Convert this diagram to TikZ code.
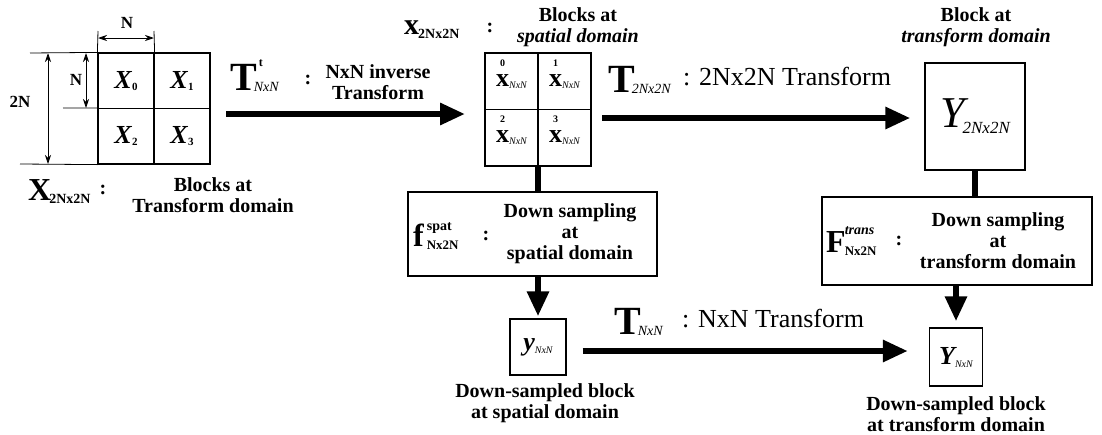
\documentclass[tikz,border=0pt]{standalone}
\usepackage{fontspec}
\setmainfont{Liberation Serif}
\usetikzlibrary{arrows.meta}
\newcommand{\fs}[1]{\fontsize{#1}{#1}\selectfont}
\newcommand{\bigT}[2]{{\fs{40}\bfseries T}\kern-3pt\rlap{\kern5pt\raisebox{24pt}{\fs{12}\bfseries #1}}\raisebox{-1pt}{\fs{14}\itshape #2}}
\newcommand{\sx}[1]{\ooalign{\bfseries x\cr\hidewidth\raisebox{20pt}{\fs{10}\bfseries #1}\hidewidth\cr}\raisebox{-2pt}{\fs{10}\itshape NxN}}
\begin{document}
\begin{tikzpicture}[x=1pt,y=-1pt,
  cell/.style={draw, line width=1.2pt, minimum width=56pt, minimum height=55.5pt, inner sep=0pt, font=\fs{26}},
  scell/.style={draw, line width=1.2pt, minimum width=53pt, minimum height=56.5pt, inner sep=0pt, font=\fs{26}},
  box/.style={draw, line width=1.4pt, inner sep=0pt},
  lbl/.style={font=\fontsize{20}{21}\selectfont\bfseries, align=center, inner sep=0pt},
  big/.style={font=\fontsize{26}{26}\selectfont, inner sep=0pt},
  dimlbl/.style={font=\fs{17}\bfseries, inner sep=0pt},
  arr/.style={line width=6pt, -{Triangle[length=25pt,width=21pt]}},
  bar/.style={line width=6pt},
  ext/.style={line width=0.8pt},
  dimarr/.style={line width=0.8pt, {Stealth[length=9pt,width=6pt]}-{Stealth[length=9pt,width=6pt]}}
]
\useasboundingbox (0,0) rectangle (1102,434);

% ---- left grid X
\node[cell] (X0) at (126,80.75) {\textbf{\textit{X}}\raisebox{-2pt}{\fs{11}\bfseries 0}};
\node[cell] (X1) at (182,80.75) {\textbf{\textit{X}}\raisebox{-2pt}{\fs{11}\bfseries 1}};
\node[cell] (X2) at (126,136.25) {\textbf{\textit{X}}\raisebox{-2pt}{\fs{11}\bfseries 2}};
\node[cell] (X3) at (182,136.25) {\textbf{\textit{X}}\raisebox{-2pt}{\fs{11}\bfseries 3}};

% dimension lines
\coordinate (tA) at (98,31);
\coordinate (tB) at (154,31);
\coordinate (tA2) at (98,38);
\coordinate (tB2) at (154,38);
\draw[ext] (X0.north west) -- (tA);
\draw[ext] (X0.north east) -- (tB);
\draw[dimarr] (tA2) -- (tB2);
\node[dimlbl] (lblN1) at (127,23) {N};

\coordinate (mL) at (63,108);
\draw[ext] (X2.north west) -- (mL);
\coordinate (nT) at (86,53);
\coordinate (nB) at (86,108);
\draw[dimarr] (nT) -- (nB);
\node[dimlbl] (lblN2) at (76,80) {N};

\coordinate (tL) at (30,53);
\coordinate (bL) at (20,164);
\draw[ext] (X0.north west) -- (tL);
\draw[ext] (X2.south west) -- (bL);
\coordinate (dT) at (48,53);
\coordinate (dB) at (48,164);
\draw[dimarr] (dT) -- (dB);
\node[dimlbl] (lbl2N) at (20,102) {2N};

% X label
\node[inner sep=0pt, anchor=base west] (Xlab) at (28,200) {{\fs{32}\bfseries X}\kern-2pt\raisebox{-3pt}{\fs{14}\bfseries 2Nx2N}};
\node[lbl] (Xcol) at (103,190) {:};
\node[lbl] (Xtxt) at (213,195) {Blocks at\\Transform domain};

% ---- spatial grid
\node[scell] (S0) at (511.5,81.25) {\sx{0}};
\node[scell] (S1) at (564.5,81.25) {\sx{1}};
\node[scell] (S2) at (511.5,137.75) {\sx{2}};
\node[scell] (S3) at (564.5,137.75) {\sx{3}};
\coordinate (Sbot) at (538,166);
\coordinate (Sright) at (591,118);

\node[inner sep=0pt, anchor=base west] (xlab) at (404,34) {{\fs{30}\bfseries x}\kern-1pt\raisebox{-4pt}{\fs{14}\bfseries 2Nx2N}};
\node[lbl] (xcol) at (490,28) {:};
\node[lbl] (xtxt) at (578,27) {Blocks at\\\textit{spatial domain}};

% arrow 1
\coordinate (a1s) at (226,114);
\coordinate (a1e) at (465,114);
\draw[arr] (a1s) -- (a1e);
\node[inner sep=0pt, anchor=base west] (T1) at (230,90) {\bigT{t}{NxN}};
\node[lbl] (T1col) at (308,80) {:};
\node[lbl] (T1txt) at (378,82) {NxN inverse\\Transform};

% ---- Y 2N box
\node[box, minimum width=100pt, minimum height=107pt] (Y2) at (975,116.5)
  {{\fs{44}\itshape Y}\kern-2pt\raisebox{-6pt}{\fs{17}\itshape 2Nx2N}};
\node[lbl] (Y2txt) at (976,27) {Block at\\\textit{transform domain}};

% arrow 2
\draw[arr] (Sright) ++(11,0) -- ([xshift=-14pt]Y2.west |- Sright);
\node[inner sep=0pt, anchor=base west] (T2) at (608,92) {\bigT{}{2Nx2N}};
\node[big, anchor=base west] (T2txt) at (683,85) {: 2Nx2N Transform};

% ---- F box (transform domain down sampling)
\node[box, minimum width=270pt, minimum height=88pt] (Fbox) at (957,241) {};
\node[inner sep=0pt, anchor=base west] (Flab) at (826,252) {{\fs{32}\bfseries F}\kern-1pt\rlap{\raisebox{18pt}{\fs{14}\bfseries\itshape trans}}\raisebox{-3pt}{\fs{13}\bfseries Nx2N}};
\node[lbl] (Fcol) at (899,241) {:};
\node[lbl] (Ftxt) at (998,241) {Down sampling\\at\\transform domain};
\draw[bar] (Y2.south) -- (Fbox.north -| Y2.south);

% ---- f box (spatial down sampling)
\node[box, minimum width=249pt, minimum height=84pt] (fbox) at (532.5,234) {};
\node[inner sep=0pt, anchor=base west] (flab) at (413,246) {{\fs{32}\bfseries f}\kern3pt\rlap{\raisebox{16pt}{\fs{14}\bfseries spat}}\raisebox{-3pt}{\fs{13}\bfseries Nx2N}};
\node[lbl] (fcol) at (486,236) {:};
\node[lbl] (ftxt) at (570,234) {Down sampling\\at\\spatial domain};
\draw[bar] (Sbot) -- (fbox.north -| Sbot);

% ---- y box
\node[box, minimum width=56pt, minimum height=56pt] (ybox) at (538,347)
  {{\fs{26}\bfseries\itshape y}\raisebox{-3pt}{\fs{10}\itshape NxN}};
\draw[arr] (fbox.south -| ybox.north) -- ([yshift=2pt]ybox.north);
\node[lbl] (ytxt) at (545,403) {Down-sampled block\\at spatial domain};

% ---- Y NxN box
\node[box, minimum width=53pt, minimum height=58pt] (Ynn) at (956,357)
  {{\fs{26}\bfseries\itshape Y}\raisebox{-3pt}{\fs{10}\itshape NxN}};
\draw[arr] (Fbox.south -| Ynn.north) -- ([yshift=6pt]Ynn.north);
\node[lbl] (Ytxt) at (956,414) {Down-sampled block\\at transform domain};

% arrow 3
\draw[arr] ([xshift=16pt,yshift=-4pt]ybox.east) -- ([xshift=-21pt,yshift=6pt]Ynn.west);
\node[inner sep=0pt, anchor=base west] (T3) at (614,334) {\bigT{}{NxN}};
\node[big, anchor=base west] (T3txt) at (682,327) {: NxN Transform};
\end{tikzpicture}
\end{document}
